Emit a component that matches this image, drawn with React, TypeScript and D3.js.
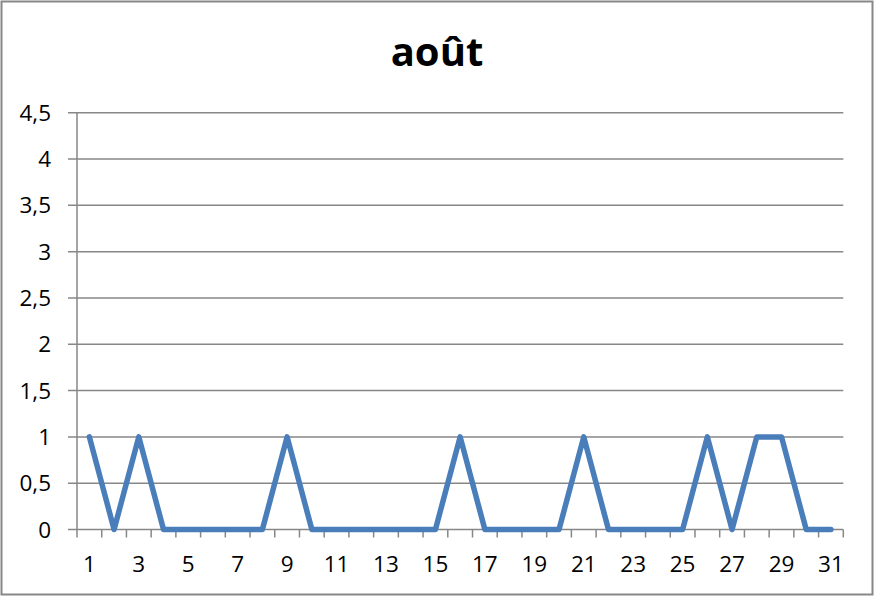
import { scaleBand, scaleLinear, line as d3Line, range } from "d3";

const days = range(1, 32).map(String);
const values = [1, 0, 1, 0, 0, 0, 0, 0, 1, 0, 0, 0, 0, 0, 0, 1, 0, 0, 0, 0, 1, 0, 0, 0, 0, 1, 0, 1, 1, 0, 0];
const yTicks = [0, 0.5, 1, 1.5, 2, 2.5, 3, 3.5, 4, 4.5];
const title = "août";

const WIDTH = 874;
const HEIGHT = 596;
const PLOT = { left: 77, right: 843.3, top: 112.7, bottom: 529.5 };
const FONT = "'Open Sans', 'Noto Sans', sans-serif";
const GRID = "#878787";

const fmt = (v: number) => String(v).replace(".", ",");

export default function App() {
  const x = scaleBand<string>().domain(days).range([PLOT.left, PLOT.right]);
  const y = scaleLinear().domain([0, 4.5]).range([PLOT.bottom, PLOT.top]);
  const cx = (d: string) => (x(d) ?? 0) + x.bandwidth() / 2;

  const path =
    d3Line<number>()
      .x((_, i) => cx(days[i]))
      .y((v) => y(v))(values) ?? "";

  const boundaries = [...days.map((d) => x(d) ?? 0), PLOT.right];

  return (
    <div style={{ position: "absolute", left: 0, top: 0 }}>
      <svg width={WIDTH} height={HEIGHT} style={{ display: "block" }}>
        <rect x={0} y={0} width={WIDTH} height={HEIGHT} fill="white" />
        <rect x={1.5} y={1.5} width={WIDTH - 3} height={HEIGHT - 3} fill="none" stroke={GRID} strokeWidth={2} />
        <text x={437} y={66} textAnchor="middle" fontFamily={FONT} fontWeight={700} fontSize={40} fill="#000">
          {title}
        </text>
        {yTicks.map((t) => (
          <g key={t}>
            <line x1={PLOT.left - 9} x2={PLOT.right} y1={y(t)} y2={y(t)} stroke={GRID} strokeWidth={1.5} />
            <text
              x={51}
              y={y(t)}
              dy="0.36em"
              textAnchor="end"
              fontFamily={FONT}
              fontSize={22.5}
              fill="#000"
            >
              {fmt(t)}
            </text>
          </g>
        ))}
        <line x1={PLOT.left} x2={PLOT.left} y1={PLOT.top} y2={PLOT.bottom} stroke={GRID} strokeWidth={1.5} />
        {boundaries.map((b, i) => (
          <line key={i} x1={b} x2={b} y1={PLOT.bottom} y2={PLOT.bottom + 8} stroke={GRID} strokeWidth={1.5} />
        ))}
        {days.map((d, i) =>
          i % 2 === 0 ? (
            <text key={d} x={cx(d)} y={571.5} textAnchor="middle" fontFamily={FONT} fontSize={22.5} fill="#000">
              {d}
            </text>
          ) : null,
        )}
        <path d={path} fill="none" stroke="#4a7ebb" strokeWidth={5.5} strokeLinejoin="round" strokeLinecap="round" />
      </svg>
    </div>
  );
}
